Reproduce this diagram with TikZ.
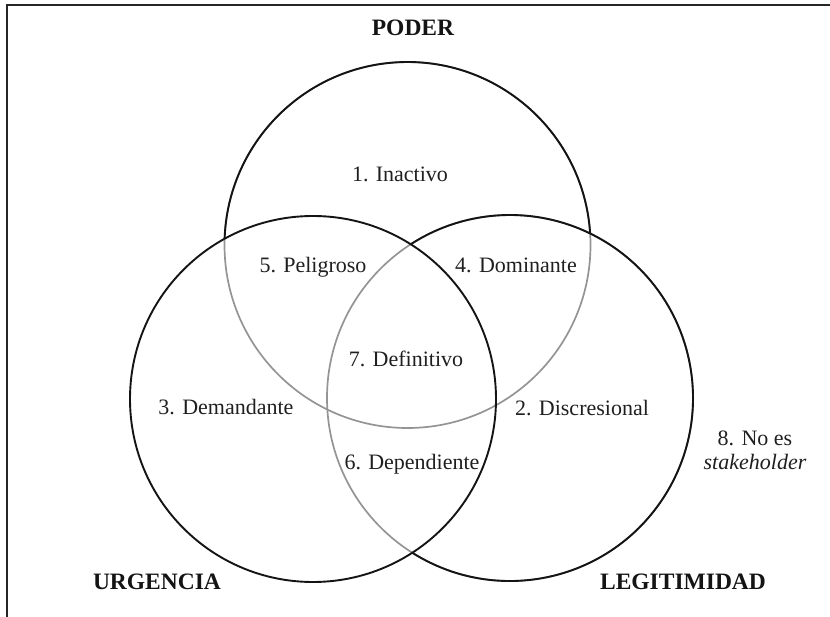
\documentclass[tikz,border=0pt]{standalone}
\usepackage{fontspec}
\setmainfont{Liberation Serif}
\begin{document}
\begin{tikzpicture}[x=1pt,y=1pt,
  ink/.style={draw=black!92,line width=1.9pt},
  inner/.style={draw=black!42,line width=1.7pt},
  region/.style={text=black!88,font=\fontsize{22}{24}\selectfont,anchor=base,inner sep=0pt},
  setname/.style={text=black!92,font=\fontsize{23.5}{26}\selectfont\bfseries,anchor=base,inner sep=0pt}]
\useasboundingbox (0,-617) rectangle (830,0);
% frame lines
\coordinate (fb) at (7,-617);
\coordinate (fc) at (7,-5);
\coordinate (fr) at (830,-5);
\draw[line width=1.6pt,black!85] (fb) -- (fc) -- (fr);
% circle centres
\coordinate (T) at (407.5,-245);
\coordinate (L) at (313,-399);
\coordinate (R) at (510,-398);
% arcs lying inside another set are grey
\draw[inner] (T) circle[radius=183pt];
\draw[inner] (R) circle[radius=183pt];
% outer arcs in black
\draw[ink] (T) ++(3.6:183pt) arc[start angle=3.6,end angle=178.1,radius=183pt];
\draw[ink] (R) ++(-122.3:183pt) arc[start angle=-122.3,end angle=122.9,radius=183pt];
\draw[ink] (L) circle[radius=183pt];
% set names
\node[setname] (poder) at (413,-36) {PODER};
\node[setname] (urg) at (157,-589) {URGENCIA};
\node[setname] (leg) at (683,-589) {LEGITIMIDAD};
% regions
\node[region] (r1) at (400,-182) {1. Inactivo};
\node[region] (r5) at (313,-273) {5. Peligroso};
\node[region] (r4) at (516,-273) {4. Dominante};
\node[region] (r7) at (406,-367) {7. Definitivo};
\node[region] (r3) at (226,-414) {3. Demandante};
\node[region] (r2) at (582,-415) {2. Discresional};
\node[region] (r6) at (412,-469) {6. Dependiente};
\node[region,align=center] (r8) at (755,-469) {8. No es\\\itshape stakeholder};
\end{tikzpicture}
\end{document}
